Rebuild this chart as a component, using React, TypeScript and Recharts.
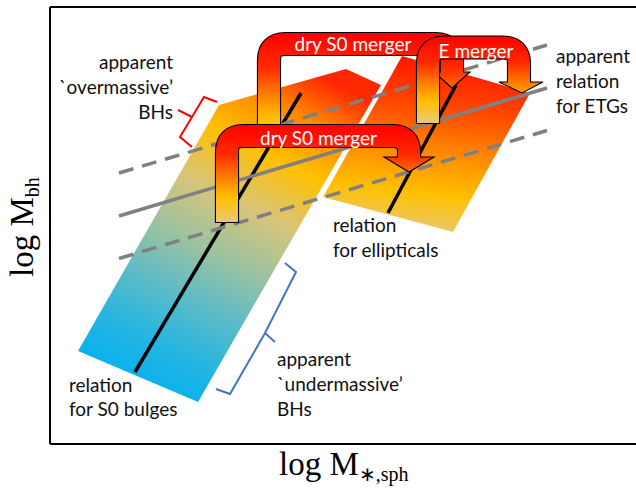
import React from "react";
import { ComposedChart, Scatter, XAxis, YAxis, ReferenceLine } from "recharts";

// schematic axes: x = log M*,sph, y = log Mbh (arbitrary units)
const X_DOMAIN = [0, 11.72];
const Y_DOMAIN = [0, 8.74];

const S0_BAND = [
  { x: 0.56, y: 1.86 },
  { x: 2.96, y: 0.84 },
  { x: 6.62, y: 7.18 },
  { x: 5.92, y: 7.5 },
  { x: 3.38, y: 6.78 },
];
const E_BAND = [
  { x: 5.46, y: 4.94 },
  { x: 8.06, y: 4.24 },
  { x: 9.6, y: 7.02 },
  { x: 7.04, y: 7.76 },
];

const S0_RELATION = [
  { x: 1.7, y: 1.44 },
  { x: 5.02, y: 7.02 },
];
const E_RELATION = [
  { x: 6.76, y: 4.62 },
  { x: 8.12, y: 7.18 },
];
const ETG_RELATION = [
  { x: 1.38, y: 4.56 },
  { x: 9.94, y: 7.12 },
];
const ETG_UPPER = [
  { x: 1.38, y: 5.42 },
  { x: 9.94, y: 7.98 },
];
const ETG_LOWER = [
  { x: 1.38, y: 3.71 },
  { x: 9.94, y: 6.27 },
];

const OVER_BRACE = [
  { x: 3.34, y: 6.84 },
  { x: 3.08, y: 6.94 },
  { x: 2.84, y: 6.54 },
  { x: 2.56, y: 6.68 },
  { x: 2.84, y: 6.54 },
  { x: 2.6, y: 6.14 },
  { x: 2.84, y: 5.94 },
];
const UNDER_BRACE = [
  { x: 4.7, y: 3.62 },
  { x: 4.92, y: 3.44 },
  { x: 4.3, y: 2.22 },
  { x: 4.5, y: 2.04 },
  { x: 4.3, y: 2.22 },
  { x: 3.6, y: 1.0 },
  { x: 3.32, y: 1.1 },
];

// arrows: tail, corner, corner, end, head left, head tip, head right, label centre
const ARROW_UPPER_S0 = [
  { x: 4.38, y: 5.94 },
  { x: 4.38, y: 8.0 },
  { x: 8.04, y: 8.0 },
  { x: 8.04, y: 7.44 },
  { x: 7.68, y: 7.44 },
  { x: 8.04, y: 7.12 },
  { x: 8.4, y: 7.44 },
  { x: 6.06, y: 8.02 },
];
const ARROW_LOWER_S0 = [
  { x: 3.54, y: 4.44 },
  { x: 3.54, y: 6.16 },
  { x: 7.18, y: 6.16 },
  { x: 7.18, y: 5.74 },
  { x: 6.68, y: 5.74 },
  { x: 7.18, y: 5.44 },
  { x: 7.68, y: 5.74 },
  { x: 5.37, y: 6.14 },
];
const ARROW_E = [
  { x: 7.56, y: 6.42 },
  { x: 7.56, y: 7.93 },
  { x: 9.38, y: 7.93 },
  { x: 9.38, y: 7.24 },
  { x: 8.98, y: 7.24 },
  { x: 9.44, y: 7.02 },
  { x: 9.86, y: 7.24 },
  { x: 8.52, y: 7.88 },
];

const NOTES_RIGHT_ALIGNED = [
  { x: 2.46, y: 7.5, text: "apparent" },
  { x: 2.46, y: 7.0, text: "`overmassive’" },
  { x: 2.46, y: 6.5, text: "BHs" },
];
const NOTES = [
  { x: 10.12, y: 7.62, text: "apparent" },
  { x: 10.12, y: 7.12, text: "relation" },
  { x: 10.12, y: 6.62, text: "for ETGs" },
  { x: 5.66, y: 4.24, text: "relation" },
  { x: 5.66, y: 3.74, text: "for ellipticals" },
  { x: 0.38, y: 1.04, text: "relation" },
  { x: 0.38, y: 0.56, text: "for S0 bulges" },
  { x: 4.54, y: 1.56, text: "apparent" },
  { x: 4.54, y: 1.06, text: "`undermassive’" },
  { x: 4.54, y: 0.56, text: "BHs" },
];

const S0_STOPS = [
  [0, "#00B0F0"],
  [0.15, "#20B4E4"],
  [0.3, "#5ABBC8"],
  [0.45, "#9CC2A0"],
  [0.6, "#D8C47A"],
  [0.75, "#FFC000"],
  [0.88, "#FF8A00"],
  [1, "#FF2800"],
];
const E_STOPS = [
  [0, "#E8C874"],
  [0.22, "#FFC000"],
  [0.45, "#FF8C00"],
  [0.7, "#FF4A00"],
  [1, "#FF1400"],
];
const ARROW_STOPS = [
  [0, "#FF0000"],
  [0.3, "#FF2A00"],
  [0.5, "#FF7000"],
  [0.75, "#FFC000"],
  [1, "#E8C878"],
];

const FONT = "Lato, 'Open Sans', sans-serif";

const noShape = () => <g />;

const bandShape = (id: string, stops: any[], dir: number[]) => (props: any) => {
  const pts = props.points;
  const xs = pts.map((p: any) => p.x);
  const ys = pts.map((p: any) => p.y);
  const x0 = Math.min(...xs);
  const y0 = Math.min(...ys);
  const w = Math.max(...xs) - x0;
  const h = Math.max(...ys) - y0;
  return (
    <g>
      <defs>
        <linearGradient
          id={id}
          gradientUnits="userSpaceOnUse"
          x1={x0 + dir[0] * w}
          y1={y0 + dir[1] * h}
          x2={x0 + dir[2] * w}
          y2={y0 + dir[3] * h}
        >
          {stops.map(([o, c]) => (
            <stop key={o} offset={o} stopColor={c} />
          ))}
        </linearGradient>
      </defs>
      <polygon points={pts.map((p: any) => `${p.x},${p.y}`).join(" ")} fill={`url(#${id})`} />
    </g>
  );
};

const strokeShape = (stroke: string, width: number, dash?: string) => (props: any) => (
  <polyline
    points={props.points.map((p: any) => `${p.x},${p.y}`).join(" ")}
    fill="none"
    stroke={stroke}
    strokeWidth={width}
    strokeDasharray={dash}
    strokeLinejoin="miter"
  />
);

const arrowShape = (id: string, label: string) => (props: any) => {
  const [tail, c1, c2, end, hl, tip, hr, lab] = props.points;
  const r = 16;
  const half = 11;
  const body = (startY: number, endY: number) =>
    `M${tail.x},${startY} L${c1.x},${c1.y + r} Q${c1.x},${c1.y} ${c1.x + r},${c1.y} ` +
    `L${c2.x - r},${c2.y} Q${c2.x},${c2.y} ${c2.x},${c2.y + r} L${end.x},${endY}`;
  return (
    <g>
      <defs>
        <linearGradient id={id} gradientUnits="userSpaceOnUse" x1={0} y1={c1.y - half} x2={0} y2={tail.y}>
          {ARROW_STOPS.map(([o, c]) => (
            <stop key={o as number} offset={o as number} stopColor={c as string} />
          ))}
        </linearGradient>
      </defs>
      <polygon
        points={`${hl.x},${hl.y} ${tip.x},${tip.y} ${hr.x},${hr.y}`}
        fill={`url(#${id})`}
        stroke="#000"
        strokeWidth={1.1}
      />
      <path d={body(tail.y + 1.1, end.y)} fill="none" stroke="#000" strokeWidth={half * 2 + 2.2} strokeLinejoin="round" />
      <path d={body(tail.y, end.y + 1.5)} fill="none" stroke={`url(#${id})`} strokeWidth={half * 2} strokeLinejoin="round" />
      <text
        x={lab.x}
        y={lab.y}
        textAnchor="middle"
        dominantBaseline="central"
        fill="#fff"
        fontFamily={FONT}
        fontSize={19}
      >
        {label}
      </text>
    </g>
  );
};

const noteShape = (anchor: string) => (p: any) => (
  <text x={p.cx} y={p.cy} textAnchor={anchor} fontFamily={FONT} fontSize={19} fill="#111">
    {p.payload.text}
  </text>
);

export default function App() {
  return (
    <div style={{ position: "absolute", left: 0, top: 0, width: 636, height: 490, background: "#fff" }}>
      <ComposedChart width={636} height={490} margin={{ top: 7, right: 0, bottom: 0, left: 0 }}>
        <XAxis
          type="number"
          dataKey="x"
          domain={X_DOMAIN}
          allowDataOverflow
          tick={false}
          tickLine={false}
          axisLine={{ stroke: "#000", strokeWidth: 2 }}
          height={46}
        />
        <YAxis
          type="number"
          dataKey="y"
          domain={Y_DOMAIN}
          allowDataOverflow
          tick={false}
          tickLine={false}
          axisLine={{ stroke: "#000", strokeWidth: 2 }}
          width={50}
        />
        <ReferenceLine y={Y_DOMAIN[1]} stroke="#000" strokeWidth={2} />

        <Scatter data={S0_BAND} line={bandShape("s0Band", S0_STOPS, [0.2, 1, 0.75, 0])} shape={noShape} isAnimationActive={false} />
        <Scatter data={E_BAND} line={bandShape("eBand", E_STOPS, [0.45, 1, 0.55, 0])} shape={noShape} isAnimationActive={false} />

        <Scatter data={S0_RELATION} line={strokeShape("#000", 3.5)} shape={noShape} isAnimationActive={false} />
        <Scatter data={E_RELATION} line={strokeShape("#000", 3.5)} shape={noShape} isAnimationActive={false} />
        <Scatter data={ETG_RELATION} line={strokeShape("#808080", 3.5)} shape={noShape} isAnimationActive={false} />
        <Scatter data={ETG_UPPER} line={strokeShape("#808080", 3.5, "15 9")} shape={noShape} isAnimationActive={false} />
        <Scatter data={ETG_LOWER} line={strokeShape("#808080", 3.5, "15 9")} shape={noShape} isAnimationActive={false} />

        <Scatter data={OVER_BRACE} line={strokeShape("#FF0000", 2)} shape={noShape} isAnimationActive={false} />
        <Scatter data={UNDER_BRACE} line={strokeShape("#4472C4", 2)} shape={noShape} isAnimationActive={false} />

        <Scatter data={ARROW_UPPER_S0} line={arrowShape("arrUpper", "dry S0 merger")} shape={noShape} isAnimationActive={false} />
        <Scatter data={ARROW_E} line={arrowShape("arrE", "E merger")} shape={noShape} isAnimationActive={false} />
        <Scatter data={ARROW_LOWER_S0} line={arrowShape("arrLower", "dry S0 merger")} shape={noShape} isAnimationActive={false} />

        <Scatter data={NOTES_RIGHT_ALIGNED} shape={noteShape("end")} isAnimationActive={false} />
        <Scatter data={NOTES} shape={noteShape("start")} isAnimationActive={false} />

        <text transform="translate(33,277) rotate(-90)" fontFamily="'Liberation Serif', serif" fontSize={33} fill="#000">
          log M
          <tspan fontSize={20} dy={6}>
            bh
          </tspan>
        </text>
        <text x={279} y={475} fontFamily="'Liberation Serif', serif" fontSize={33} fill="#000">
          log M
          <tspan fontSize={20} dy={6}>
            ∗,sph
          </tspan>
        </text>
      </ComposedChart>
    </div>
  );
}
